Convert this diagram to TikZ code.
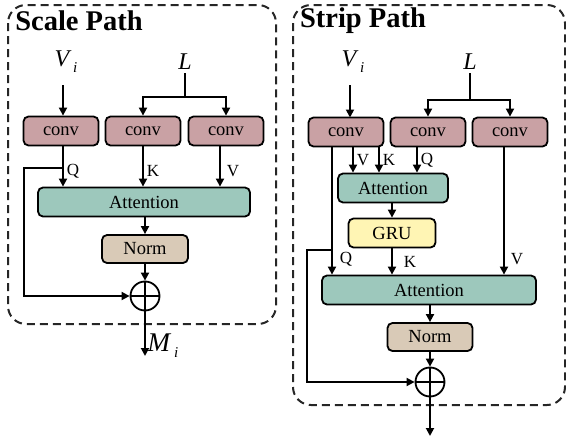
\documentclass[tikz,border=0pt]{standalone}
\usepackage{fontspec}
\setmainfont{Liberation Serif}
\usetikzlibrary{positioning,arrows.meta}
\definecolor{convcol}{HTML}{C9A1A4}
\definecolor{attcol}{HTML}{9DC8BC}
\definecolor{normcol}{HTML}{D9CAB7}
\definecolor{grucol}{HTML}{FFF5B4}
\tikzset{
	block/.style={draw, line width=1.8pt, rounded corners=5pt, minimum height=29pt, inner sep=0pt, font=\fontsize{18.5}{20}\selectfont},
	convbox/.style={block, fill=convcol, minimum width=75pt},
	attbox/.style={block, fill=attcol},
	normbox/.style={block, fill=normcol, minimum width=86pt, minimum height=28pt},
	grubox/.style={block, fill=grucol, minimum width=87pt},
	sumnode/.style={circle, draw, line width=1.8pt, minimum size=29pt, inner sep=0pt},
	arr/.style={-{Triangle[length=8pt,width=8pt]}, line width=1.8pt},
	wire/.style={line width=1.8pt},
	qkv/.style={font=\fontsize{17}{19}\selectfont, inner sep=3pt},
	invar/.style={font=\fontsize{24}{26}\selectfont\itshape},
	paneltitle/.style={font=\fontsize{28.5}{30}\selectfont\bfseries},
	panel/.style={draw=black!85, line width=2pt, dash pattern=on 8pt off 5pt, rounded corners=18pt}
}
\newcommand{\vsub}[2]{#1\kern4pt\raisebox{-6pt}{\fontsize{15}{17}\selectfont #2}}
\begin{document}
\begin{tikzpicture}[x=1pt, y=-1pt]
	\useasboundingbox (0,0) rectangle (566,439);

	% scale path
	\draw[panel] (8,5) rectangle (276,324);
	\node[paneltitle] (scaletitle) at (79,21) {Scale Path};
	\node[invar] (vi1) at (66,62) {\vsub{V}{i}};
	\node[invar] (l1) at (185,62) {L};
	\node[convbox] (conv1a) at (61,131) {conv};
	\node[convbox] (conv1b) at (143,131) {conv};
	\node[convbox] (conv1c) at (226,131) {conv};
	\node[attbox, minimum width=212pt] (att1) at (144,202) {Attention};
	\node[normbox] (norm1) at (145,249) {Norm};
	\node[sumnode] (sum1) at (145,296) {};
	\draw[wire] (sum1.north) -- (sum1.south) (sum1.west) -- (sum1.east);
	\coordinate (split1) at (185,97);
	\coordinate (tap1) at (63,168);
	\coordinate (out1) at (145,356);
	\node[invar, font=\fontsize{27}{29}\selectfont\itshape] (mi) at (163,346) {\vsub{M}{i}};

	\draw[arr] (63,85) -- (conv1a.north -| tap1);
	\draw[wire] (l1.south) -- (split1);
	\draw[arr] (split1) -| (conv1b.north);
	\draw[arr] (split1) -| (conv1c.north);
	\draw[arr] (conv1a.south -| tap1) -- (att1.north -| tap1) node[qkv, pos=0.62, right] {Q};
	\draw[arr] (conv1b.south) -- (conv1b.south |- att1.north) node[qkv, pos=0.62, right] {K};
	\draw[arr] ([xshift=-6pt]conv1c.south) -- ([xshift=-6pt]conv1c.south |- att1.north) node[qkv, pos=0.62, right=3pt] {V};
	\draw[arr] (att1.south -| norm1) -- (norm1.north);
	\draw[arr] (norm1.south) -- (sum1.north);
	\draw[arr] (tap1) -- (24,168) |- (sum1.west);
	\draw[arr] (sum1.south) -- (out1);

	% strip path
	\draw[panel] (293,5) rectangle (565,405);
	\node[paneltitle] (striptitle) at (363,21) {Strip Path};
	\node[invar] (vi2) at (353,62) {\vsub{V}{i}};
	\node[invar] (l2) at (470,62) {L};
	\node[convbox] (conv2a) at (346,132) {conv};
	\node[convbox] (conv2b) at (428,132) {conv};
	\node[convbox] (conv2c) at (510,132) {conv};
	\node[attbox, minimum width=110pt] (att2a) at (393,188) {Attention};
	\node[grubox] (gru) at (392,233) {GRU};
	\node[attbox, minimum width=214pt] (att2b) at (429,290) {Attention};
	\node[normbox, minimum width=85pt] (norm2) at (430,337) {Norm};
	\node[sumnode] (sum2) at (430,382) {};
	\draw[wire] (sum2.north) -- (sum2.south) (sum2.west) -- (sum2.east);
	\coordinate (split2) at (470,100);
	\coordinate (tap2) at (332,250);
	\coordinate (out2) at (430,436);

	\draw[arr] (350,85) -- (350,117.5);
	\draw[wire] (l2.south) -- (split2);
	\draw[arr] (split2) -| (conv2b.north);
	\draw[arr] (split2) -| (conv2c.north);
	\draw[arr] (conv2a.south -| 353,0) -- (att2a.north -| 353,0) node[qkv, pos=0.5, right=0pt] {V};
	\draw[arr] (conv2a.south -| 379,0) -- (att2a.north -| 379,0) node[qkv, pos=0.5, right=0pt] {K};
	\draw[arr] (conv2b.south -| 417,0) -- (att2a.north -| 417,0) node[qkv, pos=0.5, right=0pt] {Q};
	\draw[arr] (att2a.south -| gru) -- (gru.north);
	\draw[arr] (conv2a.south -| tap2) -- (att2b.north -| tap2) node[qkv, pos=0.88, right=4pt] {Q};
	\draw[arr] (gru.south) -- (gru.south |- att2b.north) node[qkv, pos=0.5, right=8pt] {K};
	\draw[arr] (conv2c.south -| 504,0) -- (att2b.north -| 504,0) node[qkv, pos=0.88, right=3pt] {V};
	\draw[arr] (att2b.south -| norm2) -- (norm2.north);
	\draw[arr] (norm2.south) -- (sum2.north);
	\draw[arr] (tap2) -- (307,250) |- (sum2.west);
	\draw[arr] (sum2.south) -- (out2);
\end{tikzpicture}
\end{document}
